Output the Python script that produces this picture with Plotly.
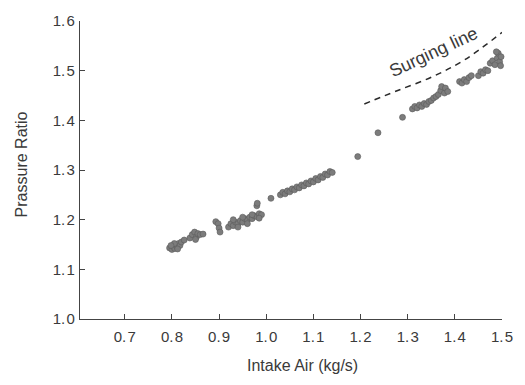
import plotly.graph_objects as go

# Measured data (intake air kg/s, pressure ratio)
intake_air = [
    0.795, 0.800, 0.803, 0.806, 0.808, 0.811, 0.814, 0.817, 0.820, 0.805, 0.798, 0.812, 0.826,
    0.838, 0.843, 0.848, 0.852, 0.855, 0.860, 0.866, 0.850,
    0.893, 0.898, 0.900, 0.902,
    0.920, 0.925, 0.930, 0.935, 0.940, 0.945, 0.950, 0.955, 0.960, 0.965, 0.970, 0.975,
    0.980, 0.985, 0.990, 0.930, 0.950, 0.970, 0.960, 0.940, 0.985, 0.980, 0.981, 1.010,
    1.030, 1.035, 1.040, 1.045, 1.050, 1.055, 1.060, 1.065, 1.070, 1.075, 1.080, 1.085,
    1.090, 1.095, 1.100, 1.105, 1.110, 1.115, 1.120, 1.125, 1.130, 1.135, 1.140,
    1.194, 1.237, 1.289,
    1.310, 1.315, 1.320, 1.325, 1.330, 1.335, 1.340, 1.345, 1.350, 1.355, 1.360, 1.365,
    1.370, 1.372, 1.378, 1.380, 1.385, 1.410, 1.415, 1.420, 1.425, 1.430, 1.435, 1.450,
    1.455, 1.460, 1.465, 1.470, 1.475, 1.480, 1.485, 1.490, 1.492, 1.495, 1.498, 1.488, 1.497,
]
pressure_ratio = [
    1.143, 1.140, 1.146, 1.142, 1.150, 1.145, 1.152, 1.148, 1.155, 1.152, 1.148, 1.141, 1.159,
    1.163, 1.170, 1.175, 1.165, 1.172, 1.170, 1.171, 1.160,
    1.196, 1.192, 1.183, 1.175,
    1.185, 1.192, 1.188, 1.195, 1.192, 1.198, 1.195, 1.202, 1.199, 1.205, 1.202, 1.208,
    1.206, 1.212, 1.210, 1.200, 1.205, 1.210, 1.192, 1.185, 1.203, 1.228, 1.233, 1.243,
    1.250, 1.255, 1.252, 1.258, 1.256, 1.262, 1.260, 1.266, 1.264, 1.270, 1.268, 1.274,
    1.272, 1.278, 1.276, 1.283, 1.280, 1.287, 1.285, 1.292, 1.290, 1.297, 1.295,
    1.327, 1.375, 1.406,
    1.423, 1.428, 1.425, 1.431, 1.428, 1.434, 1.432, 1.438, 1.440, 1.445, 1.448, 1.452,
    1.460, 1.468, 1.455, 1.465, 1.458, 1.478, 1.475, 1.482, 1.478, 1.486, 1.490, 1.490,
    1.498, 1.495, 1.502, 1.500, 1.515, 1.520, 1.512, 1.525, 1.535, 1.518, 1.528, 1.538, 1.510,
]

# Surging line
surge_x = [1.208, 1.276, 1.353, 1.421, 1.500]
surge_y = [1.433, 1.459, 1.488, 1.522, 1.577]

x_ticks = [0.7, 0.8, 0.9, 1.0, 1.1, 1.2, 1.3, 1.4, 1.5]
x_labels = ["0.7", "0.8", "0.9", "1.0", "1.1", "1.2", "1.3", "1.4", "1.5"]
y_ticks = [1.0, 1.1, 1.2, 1.3, 1.4, 1.5, 1.6]
y_labels = ["1.0", "1.1", "1.2", "1.3", "1.4", "1.5", "1.6"]

FONT = "Liberation Sans, Arial, sans-serif"
TXT = "#3a3a3a"
SP = "\u200a"

def spaced(s):
    return s.replace(".", "." + SP)

fig = go.Figure()
fig.add_trace(go.Scatter(
    x=intake_air, y=pressure_ratio, mode="markers",
    marker=dict(size=6, color="#7c7c7c", symbol="circle",
                line=dict(width=0.6, color="#5a5a5a")),
    cliponaxis=False, showlegend=False,
))
fig.add_trace(go.Scatter(
    x=surge_x, y=surge_y, mode="lines", line_shape="spline",
    line=dict(color="#2a2a2a", width=1.5, dash="6px,5px"),
    cliponaxis=False, showlegend=False,
))

fig.add_annotation(x=1.355, y=1.537, text="Surging line", showarrow=False,
                   textangle=-25, font=dict(family=FONT, size=18, color=TXT))
fig.add_annotation(x=0.527, y=-0.157, xref="paper", yref="paper",
                   text="Intake Air (kg/s)", showarrow=False,
                   xanchor="center", yanchor="middle",
                   font=dict(family=FONT, size=16, color=TXT))
fig.add_annotation(x=-0.139, y=0.52, xref="paper", yref="paper",
                   text="Prassure Ratio", showarrow=False, textangle=-90,
                   xanchor="center", yanchor="middle",
                   font=dict(family=FONT, size=16, color=TXT))
fig.update_layout(
    width=525, height=385,
    margin=dict(l=80, r=12, t=13, b=66),
    paper_bgcolor="white", plot_bgcolor="white",
    font=dict(family=FONT, size=15, color=TXT),
    xaxis=dict(range=[0.605, 1.5], tickvals=x_ticks, ticktext=[spaced(s) for s in x_labels],
               ticks="inside", ticklen=5, tickcolor="#444", showgrid=False,
               zeroline=False, showline=True, linecolor="#444", linewidth=1.2,
               tickfont=dict(size=15, color=TXT), ticklabelstandoff=4),
    yaxis=dict(range=[1.0, 1.6], tickvals=y_ticks, ticktext=[spaced(s) for s in y_labels],
               ticks="inside", ticklen=5, tickcolor="#444", showgrid=False,
               zeroline=False, showline=True, linecolor="#444", linewidth=1.2,
               tickfont=dict(size=15, color=TXT), ticklabelstandoff=1),
)
fig.write_html("out.html")
